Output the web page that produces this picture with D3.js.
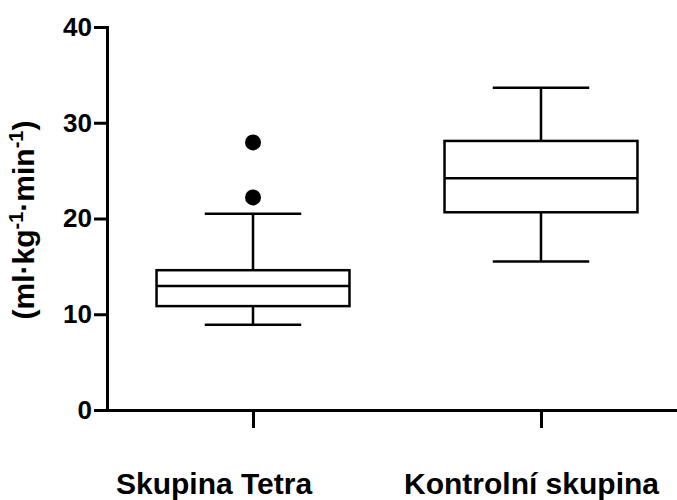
<!DOCTYPE html>
<html>
<head>
<meta charset="utf-8">
<script src="https://cdn.jsdelivr.net/npm/d3@7"></script>
<style>
  body { margin: 0; background: #fff; }
  text { font-family: 'Liberation Sans', Arial, sans-serif; font-weight: bold; fill: #000; }
</style>
</head>
<body>
<svg id="chart"></svg>
<script>
const groups = ['Skupina Tetra', 'Kontrolní skupina']
const whiskerLow = [8.9, 15.5]
const q1 = [10.85, 20.65]
const median = [12.95, 24.2]
const q3 = [14.6, 28.1]
const whiskerHigh = [20.5, 33.65]
const outliers = [[22.2, 27.95], []]
const yTicks = [0, 10, 20, 30, 40]

const width = 677
const height = 500
const margin = { top: 27, left: 107, bottom: 90 }

const svg = d3.select('#chart')
  .attr('width', width)
  .attr('height', height)

const y = d3.scaleLinear()
  .domain([0, 40])
  .range([height - margin.bottom, margin.top])

const x = d3.scalePoint()
  .domain(groups)
  .range([margin.left, 687])
  .padding(0.507)

const boxW = x.step() * 0.67
const capW = boxW / 2

const data = groups.map((g, i) => ({
  group: g,
  lo: whiskerLow[i],
  q1: q1[i],
  med: median[i],
  q3: q3[i],
  hi: whiskerHigh[i],
  out: outliers[i],
}))

// boxes
const box = svg.append('g')
  .attr('fill', 'none')
  .attr('stroke', '#000')
  .attr('stroke-width', 2.5)
  .selectAll('g')
  .data(data)
  .join('g')

box.append('line')
  .attr('x1', d => x(d.group)).attr('x2', d => x(d.group))
  .attr('y1', d => y(d.hi)).attr('y2', d => y(d.q3))
box.append('line')
  .attr('x1', d => x(d.group)).attr('x2', d => x(d.group))
  .attr('y1', d => y(d.q1)).attr('y2', d => y(d.lo))
box.append('line')
  .attr('x1', d => x(d.group) - capW / 2).attr('x2', d => x(d.group) + capW / 2)
  .attr('y1', d => y(d.hi)).attr('y2', d => y(d.hi))
box.append('line')
  .attr('x1', d => x(d.group) - capW / 2).attr('x2', d => x(d.group) + capW / 2)
  .attr('y1', d => y(d.lo)).attr('y2', d => y(d.lo))
box.append('rect')
  .attr('x', d => x(d.group) - boxW / 2)
  .attr('width', boxW)
  .attr('y', d => y(d.q3))
  .attr('height', d => y(d.q1) - y(d.q3))
box.append('line')
  .attr('x1', d => x(d.group) - boxW / 2).attr('x2', d => x(d.group) + boxW / 2)
  .attr('y1', d => y(d.med)).attr('y2', d => y(d.med))

box.selectAll('circle')
  .data(d => d.out.map(v => ({ group: d.group, v })))
  .join('circle')
  .attr('cx', d => x(d.group))
  .attr('cy', d => y(d.v))
  .attr('r', 8)
  .attr('fill', '#000')
  .attr('stroke', 'none')

// y axis
const yAxis = svg.append('g')
  .attr('transform', `translate(${margin.left},0)`)
  .call(d3.axisLeft(y).tickValues(yTicks).tickSize(13).tickSizeOuter(0).tickPadding(2))
yAxis.selectAll('path, line').attr('stroke', '#000').attr('stroke-width', 3)
yAxis.select('.domain').attr('stroke-linecap', 'square')
yAxis.selectAll('text')
  .attr('font-size', 26)
  .attr('font-family', "'Liberation Sans', Arial, sans-serif")
  .attr('font-weight', 'bold')

// x axis
const xAxis = svg.append('g')
  .attr('transform', `translate(0,${y(0)})`)
  .call(d3.axisBottom(x).tickSize(18).tickSizeOuter(0).tickFormat(''))
xAxis.selectAll('path, line').attr('stroke', '#000').attr('stroke-width', 3)
xAxis.select('.domain').attr('stroke-linecap', 'square')

svg.append('g')
  .selectAll('text')
  .data(groups)
  .join('text')
  .attr('x', d => x(d) - 137)
  .attr('y', 494)
  .attr('font-size', 30)
  .text(d => d)

// y label with superscripts
const ylab = svg.append('text')
  .attr('transform', 'translate(34,220) rotate(-90)')
  .attr('text-anchor', 'middle')
  .attr('font-size', 30)
ylab.append('tspan').text('(ml·kg')
ylab.append('tspan').attr('dy', -11).attr('font-size', 20).text('-1')
ylab.append('tspan').attr('dy', 11).text('·min')
ylab.append('tspan').attr('dy', -11).attr('font-size', 20).text('-1')
ylab.append('tspan').attr('dy', 11).text(')')
</script>
</body>
</html>
